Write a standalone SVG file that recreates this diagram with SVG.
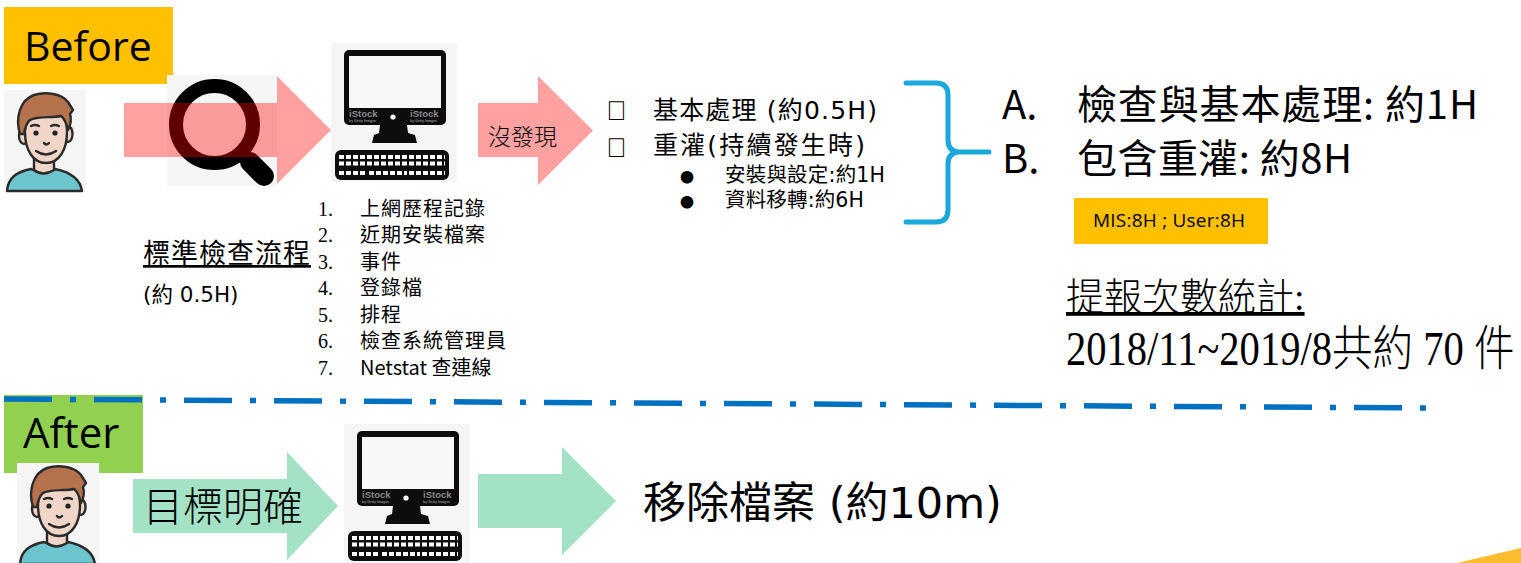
<svg xmlns="http://www.w3.org/2000/svg" width="1521" height="563" viewBox="0 0 1521 563">
<style>
  .cal{font-family:"Open Sans","Liberation Sans",sans-serif;fill:#000}
  .hei{font-family:"Noto Sans CJK TC","Noto Sans",sans-serif;fill:#000}
  .jh{font-family:"DejaVu Sans","Noto Sans CJK TC",sans-serif;fill:#000}
  .ming{font-family:"Liberation Serif","Noto Sans CJK TC",serif;font-weight:300;fill:#000}
  .num{font-family:"Liberation Serif",serif;fill:#000}
  .sym{font-family:"Liberation Sans",sans-serif;fill:#000}
  .pink{fill:#ff0000;fill-opacity:0.37}
  .mint{fill:#a3e2c5}
  .ink{fill:#0d0d0d}
  .outline{stroke:#2b2b2b;stroke-width:2.4;stroke-linejoin:round;stroke-linecap:round}
  .skin{fill:#f0d6c8}
  .keys{stroke:#fff;stroke-width:4;stroke-dasharray:5 2;fill:none}
  .wm{font-family:"Liberation Sans",sans-serif;font-weight:bold;fill:#8a8a8a}
</style>
<defs>
  <!-- avatar tile, 82 x 102 -->
  <g id="person">
    <rect width="82" height="102" fill="#f5f5f5"/>
    <path class="outline" fill="#6cc5cf" d="M3,101 C4,88 12,82 27,79 Q39,86 51,79 C66,82 76,88 78,101 Z"/>
    <path class="outline skin" d="M30,64 L30,80 Q39,87 50,80 L50,64 Z"/>
    <ellipse class="outline skin" cx="20" cy="46" rx="5" ry="8"/>
    <ellipse class="outline skin" cx="64" cy="44" rx="4.5" ry="8"/>
    <path class="outline skin" d="M21,42 C21,24 30,15 42,15 C55,15 63,24 63,42 C63,60 55,73 42,73 C29,73 21,60 21,42 Z"/>
    <path class="outline" fill="#b5724c" d="M16,44 C11,28 16,10 30,5 C42,1 58,4 64,12 L69,20 L66,24 C68,30 66,36 64,40 C62,32 60,28 57,26 C48,28 32,26 26,30 C22,33 21,38 20,44 Z"/>
    <circle cx="32" cy="43" r="2.6" fill="#222"/>
    <circle cx="51" cy="43" r="2.6" fill="#222"/>
    <path class="outline" fill="none" stroke-width="2" d="M27,36 Q31,34 35,36 M47,36 Q51,34 55,36 M40,53 Q42,56 45,53 M32,61 Q42,68 52,61"/>
  </g>
  <!-- desktop computer tile, 126 x 139 -->
  <g id="pc">
    <rect width="126" height="139" fill="#f5f5f5"/>
    <rect class="ink" x="13" y="7" width="102" height="75" rx="5"/>
    <rect x="18" y="13" width="92" height="52" fill="#f7f7f7"/>
    <text class="wm" x="18" y="74" font-size="9.5">iStock</text>
    <text class="wm" x="79" y="74" font-size="9.5">iStock</text>
    <text class="wm" x="18" y="78.5" font-size="3.5" font-weight="normal">by Getty Images</text>
    <text class="wm" x="79" y="78.5" font-size="3.5" font-weight="normal">by Getty Images</text>
    <circle cx="62" cy="74" r="2.6" fill="#fff"/>
    <polygon class="ink" points="49,82 76,82 77,90 84,92 86,100 41,100 43,92 48,90"/>
    <rect class="ink" x="4" y="107" width="114" height="30" rx="6"/>
    <line class="keys" x1="8" y1="114" x2="114" y2="114"/>
    <line class="keys" x1="8" y1="120.5" x2="114" y2="120.5"/>
    <line class="keys" x1="8" y1="130" x2="36" y2="130"/>
    <line class="keys" x1="38" y1="130" x2="76" y2="130" stroke-dasharray="none"/>
    <line class="keys" x1="78" y1="130" x2="114" y2="130"/>
  </g>
</defs>

<!-- ===== Before ===== -->
<g id="before-label">
  <rect x="4" y="7" width="169" height="77" fill="#ffc000"/>
  <text class="cal" x="24" y="61" font-size="41">Before</text>
</g>

<g id="user-before"><use href="#person" x="4" y="90"/></g>

<g id="magnifier">
  <rect x="167" y="75" width="110" height="111" fill="#f5f5f5"/>
  <circle cx="214.5" cy="124.5" r="38.5" fill="none" stroke="#000" stroke-width="14"/>
  <line x1="250" y1="162" x2="264" y2="176" stroke="#000" stroke-width="20" stroke-linecap="round"/>
  <line x1="240" y1="152" x2="252" y2="164" stroke="#000" stroke-width="12"/>
</g>

<g id="pc-before"><use href="#pc" x="331" y="43"/></g>

<g id="connectors">
  <polygon class="pink" points="124,103 277,103 277,76 331,130 277,184 277,157 124,157"/>
  <polygon class="pink" points="478,103 538,103 538,76 593,130.5 538,185 538,157 478,157"/>
  <polygon class="mint" points="133,479 287,479 287,452 338,506 287,560 287,533 133,533"/>
  <polygon class="mint" points="478,474 562,474 562,447 616,501 562,555 562,528 478,528"/>
  <path d="M906,83 L936,83 Q948,83 948,95 L948,140 Q948,152 960,152 L989,152 M960,152 Q948,152 948,164 L948,210 Q948,222 936,222 L906,222" fill="none" stroke="#1ba8dc" stroke-width="5" stroke-linecap="round" stroke-linejoin="round"/>
</g>

<g id="not-found-label">
  <text class="ming" x="488" y="145" font-size="23">沒發現</text>
</g>

<g id="check-procedure">
  <text class="hei" x="143" y="263" font-size="27" letter-spacing="1" text-decoration="underline">標準檢查流程</text>
  <text class="jh" x="143" y="302" font-size="21.5">(約 0.5H)</text>
</g>

<g id="check-list">
  <g class="num" font-size="20">
    <text x="318" y="215.5">1.</text>
    <text x="318" y="242">2.</text>
    <text x="318" y="268.5">3.</text>
    <text x="318" y="295">4.</text>
    <text x="318" y="321.5">5.</text>
    <text x="318" y="348">6.</text>
    <text x="318" y="374.5">7.</text>
  </g>
  <g class="hei" font-size="20" letter-spacing="1">
    <text x="360" y="215.5">上網歷程記錄</text>
    <text x="360" y="242">近期安裝檔案</text>
    <text x="360" y="268.5">事件</text>
    <text x="360" y="295">登錄檔</text>
    <text x="360" y="321.5">排程</text>
    <text x="360" y="348">檢查系統管理員</text>
    <text x="360" y="374.5" letter-spacing="0">Netstat 查連線</text>
  </g>
</g>

<g id="handling">
  <text class="sym" x="606" y="120" font-size="27">&#xF0D8;</text>
  <text class="sym" x="606" y="157" font-size="27">&#xF0D8;</text>
  <text class="jh" x="653" y="119" font-size="25" textLength="224">基本處理 (約0.5H)</text>
  <text class="jh" x="653" y="154" font-size="25" textLength="212">重灌(持續發生時)</text>
  <text class="hei" x="680" y="182" font-size="14">●</text>
  <text class="hei" x="680" y="207" font-size="14">●</text>
  <text class="jh" x="725" y="182" font-size="20.5" textLength="160">安裝與設定:約1H</text>
  <text class="jh" x="725" y="207" font-size="20.5" textLength="139">資料移轉:約6H</text>
</g>

<g id="summary">
  <text class="hei" x="1002" y="119" font-size="40">A.</text>
  <text class="hei" x="1077" y="119" font-size="40" textLength="401">檢查與基本處理: 約1H</text>
  <text class="hei" x="1002" y="173" font-size="40">B.</text>
  <text class="hei" x="1077" y="173" font-size="40" textLength="275">包含重灌: 約8H</text>
</g>

<g id="effort-tag">
  <rect x="1074" y="198" width="194" height="46" fill="#ffc000"/>
  <text class="cal" x="1093" y="227" font-size="19" textLength="152">MIS:8H ; User:8H</text>
</g>

<g id="report-stats">
  <text class="ming" x="1066" y="310" font-size="38" text-decoration="underline">提報次數統計:</text>
  <text class="ming" transform="translate(1066,365) scale(0.845,1)" font-size="48">2018/11~2019/8共約 70 件</text>
</g>

<!-- ===== After ===== -->
<g id="after-label">
  <rect x="4" y="395" width="139" height="78" fill="#92d050"/>
  <text class="cal" x="23" y="448" font-size="42">After</text>
</g>

<g id="divider">
  <line x1="4" y1="399" x2="1427" y2="408" stroke="#0070c0" stroke-width="5.5" stroke-dasharray="48 18 6 18"/>
</g>

<g id="user-after"><use href="#person" x="17" y="463"/></g>

<g id="target-label">
  <text class="ming" x="143" y="521" font-size="40">目標明確</text>
</g>

<g id="pc-after"><use href="#pc" x="344" y="424"/></g>

<g id="remove-files">
  <text class="jh" x="643" y="518" font-size="43">移除檔案 (約10m)</text>
</g>

<polygon points="1457,563 1521,548 1521,563" fill="#fbbd2d"/>
</svg>
